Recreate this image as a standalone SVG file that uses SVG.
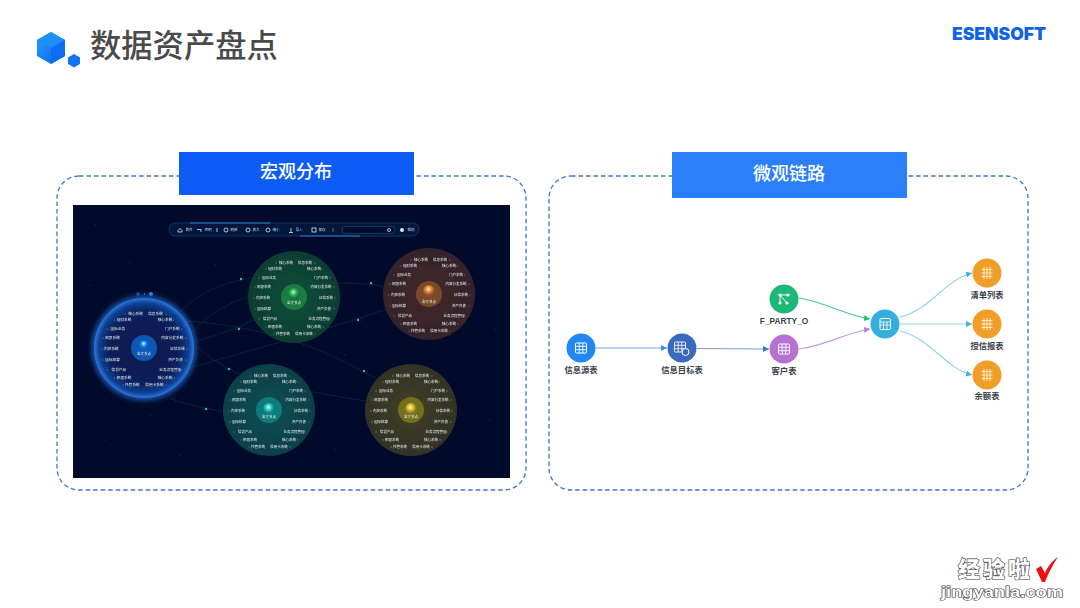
<svg xmlns="http://www.w3.org/2000/svg" xmlns:xlink="http://www.w3.org/1999/xlink" width="1080" height="608" viewBox="0 0 1080 608">
<style>
.cjk{font-family:"Noto Sans CJK SC","Noto Sans",sans-serif}
.frame{fill:none;stroke:#3d74d6;stroke-width:1.3;stroke-dasharray:4.5 3}
.head{fill:#fff;font-size:18px;font-weight:500;text-anchor:middle}
.nl{fill:#3a3f4a;font-size:8.3px;font-weight:700;text-anchor:middle}
.ic{fill:none;stroke:#fff;stroke-width:1;opacity:.92}
.lb{fill:#e6eef0;font-size:3.5px;text-anchor:middle}
.tb{fill:#c9d6e6;font-size:3.6px;text-anchor:middle}
.tbi{fill:none;stroke:#dbe6f2;stroke-width:.8}
.flow{fill:none;stroke-width:1.1}
.orbit{fill:none;stroke:#2f7f88;stroke-width:.5;stroke-dasharray:1.4 1.2;opacity:.7}
.knot{fill:#25c2b4}
.star{fill:#5f7fa8;opacity:.5}
.ctr{fill:#f2f7f5;font-size:3.5px;text-anchor:middle}
</style>
<defs>
<linearGradient id="cube" x1="0" y1="0" x2="1" y2="1"><stop offset="0" stop-color="#23a4f8"/><stop offset="1" stop-color="#0a5cf0"/></linearGradient>
<radialGradient id="gGreen"><stop offset="0" stop-color="#0f4f37"/><stop offset="1" stop-color="#0d3d33"/></radialGradient>
<radialGradient id="gOrange"><stop offset="0" stop-color="#44292a"/><stop offset="1" stop-color="#33222a"/></radialGradient>
<radialGradient id="gTeal"><stop offset="0" stop-color="#0b4e54"/><stop offset="1" stop-color="#0a3e49"/></radialGradient>
<radialGradient id="gYellow"><stop offset="0" stop-color="#403f24"/><stop offset="1" stop-color="#323226"/></radialGradient>
<radialGradient id="gBlue"><stop offset="0" stop-color="#071a47"/><stop offset=".72" stop-color="#08205a"/><stop offset=".9" stop-color="#103f92"/><stop offset="1" stop-color="#2a78e0"/></radialGradient>
<radialGradient id="bGreen" cx=".45" cy=".35"><stop offset="0" stop-color="#bff5cf"/><stop offset=".5" stop-color="#2fb65a"/><stop offset="1" stop-color="#17713f"/></radialGradient>
<radialGradient id="bOrange" cx=".45" cy=".35"><stop offset="0" stop-color="#ffe9c4"/><stop offset=".5" stop-color="#e08a35"/><stop offset="1" stop-color="#8a4c2a"/></radialGradient>
<radialGradient id="bTeal" cx=".45" cy=".35"><stop offset="0" stop-color="#d4fff6"/><stop offset=".5" stop-color="#27c9c0"/><stop offset="1" stop-color="#107a7c"/></radialGradient>
<radialGradient id="bYellow" cx=".45" cy=".35"><stop offset="0" stop-color="#fff6c2"/><stop offset=".5" stop-color="#d6bf2a"/><stop offset="1" stop-color="#7f7420"/></radialGradient>
<radialGradient id="bBlue" cx=".45" cy=".35"><stop offset="0" stop-color="#e2f6ff"/><stop offset=".5" stop-color="#1c9cf0"/><stop offset="1" stop-color="#0c5cc0"/></radialGradient>
<filter id="soft" x="-5%" y="-5%" width="110%" height="110%"><feGaussianBlur stdDeviation=".2"/></filter>
<filter id="glow" x="-30%" y="-30%" width="160%" height="160%"><feGaussianBlur stdDeviation="2"/></filter>
<marker id="aBlue" markerWidth="7" markerHeight="7" refX="6" refY="3" orient="auto" markerUnits="userSpaceOnUse"><path d="M0,0L6,3L0,6z" fill="#3d8ee8"/></marker>
<marker id="aNavy" markerWidth="7" markerHeight="7" refX="6" refY="3" orient="auto" markerUnits="userSpaceOnUse"><path d="M0,0L6,3L0,6z" fill="#3f74c4"/></marker>
<marker id="aGreen" markerWidth="7" markerHeight="7" refX="6" refY="3" orient="auto" markerUnits="userSpaceOnUse"><path d="M0,0L6,3L0,6z" fill="#27bb78"/></marker>
<marker id="aPurple" markerWidth="7" markerHeight="7" refX="6" refY="3" orient="auto" markerUnits="userSpaceOnUse"><path d="M0,0L6,3L0,6z" fill="#b67fd8"/></marker>
<marker id="aCyan" markerWidth="7" markerHeight="7" refX="6" refY="3" orient="auto" markerUnits="userSpaceOnUse"><path d="M0,0L6,3L0,6z" fill="#3eb4dc"/></marker>
<g id="grid"><rect x="-5.5" y="-5" width="11" height="10" rx=".8" fill="none" stroke="#fff" stroke-width="1"/><path d="M-5.5,-1.7H5.5M-5.5,1.7H5.5M-1.8,-5V5M1.8,-5V5" stroke="#fff" stroke-width=".9" fill="none"/></g>
<g id="grid2"><path d="M-5.5,-3.4H5.5M-5.5,0H5.5M-5.5,3.4H5.5M-3,-6V6M0,-6V6M3,-6V6" stroke="#ffe9c8" stroke-width="1" fill="none"/></g>
<g id="labels">
<text class="lb cjk" x="-8" y="-32.7">核心系统</text><text class="lb cjk" x="11" y="-32.7">信息系统</text>
<text class="lb cjk" x="-19" y="-26.700">理财系统</text><text class="lb cjk" x="20" y="-26.700">核心系统</text>
<text class="lb cjk" x="-25" y="-17.700">国际业务</text><text class="lb cjk" x="27" y="-17.700">门户系统</text>
<text class="lb cjk" x="-30" y="-8.700">网银系统</text><text class="lb cjk" x="27" y="-8.700">内容分发系统</text>
<text class="lb cjk" x="-31" y="2.300">内控系统</text><text class="lb cjk" x="32" y="2.300">征信系统</text>
<text class="lb cjk" x="-30" y="13.300">国际结算</text><text class="lb cjk" x="30" y="13.300">资产负债</text>
<text class="lb cjk" x="-24" y="23.300">信贷产品</text><text class="lb cjk" x="25" y="23.300">业务流程管理</text>
<text class="lb cjk" x="-19" y="31.300">柜面系统</text><text class="lb cjk" x="20" y="31.300">核心系统</text>
<text class="lb cjk" x="-11" y="38.300">托管系统</text><text class="lb cjk" x="10" y="38.300">信用卡系统</text>
</g>
<g id="dots"><path d="M-18,-34h.01M21,-34h.01M-28,-28h.01M28,-28h.01M-35,-19h.01M36,-19h.01M-39,-10h.01M40,-10h.01M-40,1h.01M41,1h.01M-39,12h.01M40,12h.01M-35,22h.01M36,22h.01M-28,30h.01M29,30h.01M-20,37h.01M21,37h.01" stroke-width="1" stroke-linecap="round" fill="none"/></g>
</defs>

<rect width="1080" height="608" fill="#fff"/>

<g id="title">
<g id="logo">
<path d="M51,32L65,40V56L51,64L37,56V40Z" fill="url(#cube)"/>
<path d="M51,32L65,40L51,48L37,40Z" fill="#1c8ff7"/>
<path d="M51,48L65,40V56L51,64Z" fill="#0f6cf2"/>
<path d="M74,54L80,57.500V64L74,67.500L68,64V57.500Z" fill="#1473f2"/>
</g>
<text class="cjk" x="90" y="57" font-size="31.300" font-weight="500" fill="#4a4a4a">数据资产盘点</text>
<text x="952" y="39.500" font-family="Inter,'Liberation Sans',sans-serif" font-size="17" font-weight="900" fill="#0f63e6" textLength="94" lengthAdjust="spacingAndGlyphs">ESENSOFT</text>
</g>

<g id="macro">
<rect class="frame" x="57" y="176" width="469" height="314" rx="22"/>
<rect x="179" y="152" width="235" height="43" fill="#0d5cf5"/>
<text class="head cjk" x="296" y="178">宏观分布</text>
<rect x="73" y="205" width="437" height="273" fill="#020a2c"/>
<g id="stars">
<circle class="star" cx="95" cy="225" r=".5"/><circle class="star" cx="130" cy="262" r=".5"/><circle class="star" cx="90" cy="285" r=".5"/><circle class="star" cx="215" cy="265" r=".5"/><circle class="star" cx="355" cy="232" r=".5"/><circle class="star" cx="485" cy="240" r=".5"/><circle class="star" cx="495" cy="330" r=".5"/><circle class="star" cx="345" cy="355" r=".5"/><circle class="star" cx="105" cy="440" r=".5"/><circle class="star" cx="180" cy="455" r=".5"/><circle class="star" cx="335" cy="450" r=".5"/><circle class="star" cx="490" cy="420" r=".5"/><circle class="star" cx="150" cy="415" r=".5"/><circle class="star" cx="205" cy="225" r=".5"/>
</g>
<g id="orbits">
<path class="orbit" d="M181,311C200,292 222,282 262,276"/>
<path class="orbit" d="M173,321C200,320 250,328 283,338C310,345 345,360 385,384"/>
<path class="orbit" d="M190,335C210,310 240,296 283,288C320,282 355,281 387,287"/>
<path class="orbit" d="M190,368C250,350 320,332 387,309"/>
<path class="orbit" d="M180,345C205,340 240,328 263,315"/>
<path class="orbit" d="M190,340C210,360 240,378 267,383C300,390 340,397 372,402"/>
<path class="orbit" d="M170,398C185,405 205,408 226,412"/>
<circle class="knot" cx="241" cy="279" r="1.200"/><circle class="knot" cx="239" cy="329" r="1.200"/><circle class="knot" cx="371" cy="283" r="1.200"/><circle class="knot" cx="358" cy="320" r="1.200"/><circle class="knot" cx="229" cy="369" r="1.200"/><circle class="knot" cx="364" cy="371" r="1.200"/><circle class="knot" cx="206" cy="409" r="1.200"/>
</g>
<g id="toolbar" filter="url(#soft)">
<rect x="169" y="223" width="250" height="13" rx="6.500" fill="#06183e" stroke="#123f6e" stroke-width=".8"/>
<path d="M190,223H270" stroke="#1f7fc8" stroke-width="1"/><path d="M300,236H360" stroke="#1f7fc8" stroke-width="1"/>
<path class="tbi" d="M178,230.500L180,228.500L182,230.500V232H178Z"/><text class="tb cjk" x="189" y="231.300">首页</text>
<path class="tbi" d="M197,229.500H201V232"/><text class="tb cjk" x="208" y="231.300">声明</text>
<path class="tbi" d="M217,228V232"/>
<circle class="tbi" cx="226" cy="230" r="2"/><text class="tb cjk" x="234" y="231.300">刷新</text>
<circle class="tbi" cx="248" cy="230" r="2"/><text class="tb cjk" x="256" y="231.300">放大</text>
<circle class="tbi" cx="268" cy="230" r="2"/><text class="tb cjk" x="276" y="231.300">缩小</text>
<path class="tbi" d="M291,232.500V228M289,232.500H293"/><text class="tb cjk" x="299" y="231.300">导入</text>
<rect class="tbi" x="312" y="228" width="4" height="4"/><text class="tb cjk" x="322" y="231.300">保存</text>
<path class="tbi" d="M333,228V232" opacity=".5"/>
<rect x="342" y="226.500" width="53" height="7" rx="3.500" fill="#04102e" stroke="#1d4c74" stroke-width=".6"/>
<circle class="tbi" cx="389" cy="230" r="1.500"/>
<circle cx="402" cy="230" r="2" fill="#dbe6f2"/><text class="tb cjk" x="411" y="231.300">帮助</text>
</g>

<g id="cluster-blue" filter="url(#soft)">
<circle cx="138" cy="294" r="1.800" fill="#0d4f9e"/><circle cx="151" cy="294" r="2" fill="#118af0"/><circle cx="144.500" cy="294" r=".7" fill="#6ea8dc"/>
<circle cx="144" cy="348" r="53" fill="#2a7ae8" opacity=".55" filter="url(#glow)"/>
<circle cx="144" cy="348" r="50" fill="url(#gBlue)"/>
<circle cx="144" cy="348" r="13" fill="#0d63c8" opacity=".85"/>
<circle cx="144" cy="345" r="4.500" fill="url(#bBlue)"/>
<text class="ctr cjk" x="144" y="355">全文节点</text>
<g transform="translate(144 348) scale(1.050 1)"><use href="#labels"/><use href="#dots" stroke="#5fb6e8"/></g>
</g>
<g id="cluster-green" filter="url(#soft)">
<circle cx="294" cy="297" r="46" fill="url(#gGreen)"/>
<circle cx="294" cy="297" r="13" fill="#1f7a45"/>
<circle cx="294" cy="294" r="6" fill="url(#bGreen)"/>
<text class="ctr cjk" x="294" y="304">全文节点</text>
<use href="#labels" x="294" y="297"/><use href="#dots" x="294" y="297" stroke="#38d07f"/>
</g>
<g id="cluster-orange" filter="url(#soft)">
<circle cx="429" cy="294" r="46" fill="url(#gOrange)"/>
<circle cx="429" cy="294" r="13" fill="#7a4a2c"/>
<circle cx="429" cy="291" r="6" fill="url(#bOrange)"/>
<text class="ctr cjk" x="429" y="303">全文节点</text>
<use href="#labels" x="429" y="294"/><use href="#dots" x="429" y="294" stroke="#e58a4a"/>
</g>
<g id="cluster-teal" filter="url(#soft)">
<circle cx="269" cy="410" r="46" fill="url(#gTeal)"/>
<circle cx="269" cy="410" r="13" fill="#117a7c"/>
<circle cx="269" cy="409" r="6" fill="url(#bTeal)"/>
<text class="ctr cjk" x="269" y="418">全文节点</text>
<use href="#labels" x="269" y="410"/><use href="#dots" x="269" y="410" stroke="#30d0c8"/>
</g>
<g id="cluster-yellow" filter="url(#soft)">
<circle cx="411" cy="410" r="46" fill="url(#gYellow)"/>
<circle cx="411" cy="410" r="13" fill="#73701f"/>
<circle cx="411" cy="409" r="6" fill="url(#bYellow)"/>
<text class="ctr cjk" x="411" y="418">全文节点</text>
<use href="#labels" x="411" y="410"/><use href="#dots" x="411" y="410" stroke="#d8cd5a"/>
</g>
</g>

<g id="micro">
<rect class="frame" x="549" y="176" width="479" height="314" rx="22"/>
<rect x="672" y="152" width="235" height="46" fill="#2a7ffb"/>
<text class="head cjk" x="789" y="180">微观链路</text>
</g>

<g id="connectors">
<path class="flow" stroke="#6aa9ec" marker-end="url(#aBlue)" d="M596,348H667"/>
<path class="flow" stroke="#7f9bd0" marker-end="url(#aNavy)" d="M697,348.500L769,349"/>
<path class="flow" stroke="#4cc892" marker-end="url(#aGreen)" d="M799,298C825,302 845,315 870,319"/>
<path class="flow" stroke="#c79ae0" marker-end="url(#aPurple)" d="M799,349C825,346 845,333 870,329"/>
<path class="flow" stroke="#8fd2ea" marker-end="url(#aCyan)" d="M900,317C930,310 945,280 972,273"/>
<path class="flow" stroke="#8fd2ea" marker-end="url(#aCyan)" d="M900,324H972"/>
<path class="flow" stroke="#8fd2ea" marker-end="url(#aCyan)" d="M900,331C930,338 945,368 972,375"/>
</g>

<g id="node-source"><circle cx="581" cy="348" r="14.500" fill="#2187f2"/><use href="#grid" x="581" y="348"/><text class="nl cjk" x="581" y="372.500">信息源表</text></g>
<g id="node-target"><circle cx="682" cy="348" r="14.500" fill="#3b69bd"/><use href="#grid" x="680" y="347" opacity=".9"/><circle cx="685.500" cy="352" r="3.500" fill="#3b69bd" stroke="#fff"/><text class="nl cjk" x="682" y="372.500">信息目标表</text></g>
<g id="node-customer"><circle cx="784" cy="349" r="14.500" fill="#b672d2"/><use href="#grid" x="784" y="349"/><text class="nl cjk" x="784" y="374">客户表</text></g>
<g id="node-party"><circle cx="784" cy="299" r="14.500" fill="#1cb877"/><path class="ic" d="M780,295L788,295M780,295L780,303M780,295L787,303"/><circle cx="780" cy="295" r="1.600" fill="#fff"/><circle cx="788" cy="295" r="1.600" fill="#fff"/><circle cx="780" cy="303" r="1.600" fill="#fff"/><circle cx="787" cy="303" r="1.600" fill="#fff"/><text x="784" y="323.500" text-anchor="middle" font-family="'Liberation Sans',sans-serif" font-size="8.300" font-weight="700" fill="#3a3f4a">F_PARTY_O</text></g>
<g id="node-calc"><circle cx="885" cy="324" r="14.500" fill="#34afdc"/><rect x="880" y="318.500" width="10.500" height="11" rx=".8" fill="none" stroke="#fff"/><path d="M880,322H890.500M880,325H890.500M883.500,322V329.500M887,322V329.500" stroke="#fff" stroke-width=".8" fill="none"/></g>
<g id="node-list"><circle cx="987" cy="273" r="14.500" fill="#ef9e27"/><use href="#grid2" x="987" y="273"/><text class="nl cjk" x="987" y="298">清单列表</text></g>
<g id="node-credit"><circle cx="987" cy="324" r="14.500" fill="#ef9e27"/><use href="#grid2" x="987" y="324"/><text class="nl cjk" x="987" y="348.500">授信报表</text></g>
<g id="node-balance"><circle cx="987" cy="375" r="14.500" fill="#ef9e27"/><use href="#grid2" x="987" y="375"/><text class="nl cjk" x="987" y="399">余额表</text></g>

<g id="watermark">
<text class="cjk" x="958" y="577" font-size="22" font-weight="900" fill="#fff" stroke="#3a3a3a" stroke-width="1.200" paint-order="stroke" textLength="72">经验啦</text>
<text x="941" y="597" font-family="'Liberation Sans',sans-serif" font-size="15" font-weight="700" fill="#fff" stroke="#3a3a3a" stroke-width="1.200" paint-order="stroke" textLength="122" lengthAdjust="spacingAndGlyphs">jingyanla.com</text>
<path d="M1036,569L1041,566L1045,573C1048,566 1052,561 1058,557C1053,564 1049,572 1045,582H1042Z" fill="#f01010"/>
</g>
</svg>
